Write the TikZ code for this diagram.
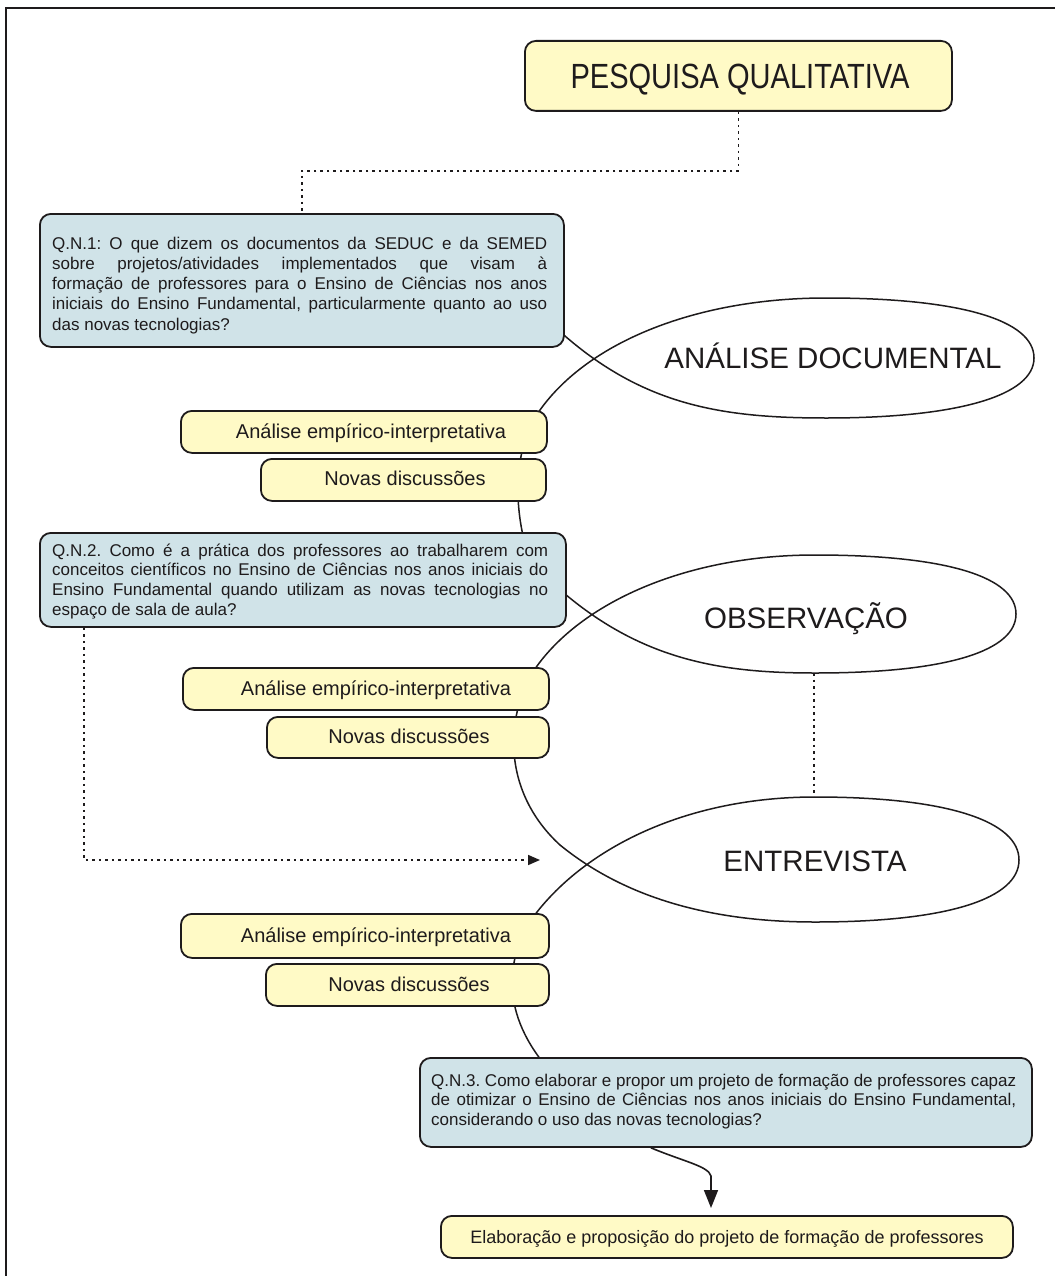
\documentclass[tikz,border=0pt]{standalone}
\usepackage{fontspec}
\setmainfont{Liberation Sans}
\newfontfamily\narrowfont{Liberation Sans}[FakeStretch=0.83]
\usetikzlibrary{arrows.meta,calc}
\definecolor{boxyellow}{RGB}{255,250,198}
\definecolor{boxblue}{RGB}{208,227,232}
\definecolor{ink}{RGB}{30,27,28}
\frenchspacing
\begin{document}
\begin{tikzpicture}[x=1pt,y=-1pt,
  ybox/.style={draw=ink, line width=1.8pt, rounded corners=11pt, fill=boxyellow, rectangle, inner sep=0pt, anchor=north west},
  bbox/.style={ybox, fill=boxblue},
  fish/.style={draw=ink, line width=1.5pt},
  dotline/.style={draw=ink, line width=1.6pt, dash pattern=on 2.5pt off 4pt},
  lbl/.style={text=ink, inner sep=0pt, anchor=base},
  biglbl/.style={lbl, font=\fontsize{29.5pt}{34pt}\selectfont},
  midlbl/.style={lbl, font=\fontsize{20pt}{24pt}\selectfont},
  qtext/.style={text=ink, inner sep=0pt, anchor=base west, align=justify, font=\fontsize{17pt}{19.8pt}\selectfont},
]
\useasboundingbox (0,0) rectangle (1054,1276);
\fill[white] (0,0) rectangle (1054,1276);
\draw[ink, line width=2pt] (6,1290) -- (6,8) -- (1070,8);

% fish-shaped loops (drawn first, boxes cover their ends)
\draw[fish] (556,328) .. controls (640,405) and (720,418) .. (826,418)
  .. controls (960,418) and (1034,395) .. (1034,358)
  .. controls (1034,320) and (960,298) .. (826,298)
  .. controls (700,298) and (590,340) .. (540,410)
  .. controls (518,440) and (512,490) .. (524,540);
\draw[fish] (558,588) .. controls (640,660) and (720,673) .. (815,673)
  .. controls (950,673) and (1016,650) .. (1016,614)
  .. controls (1016,578) and (950,555) .. (815,555)
  .. controls (690,555) and (585,600) .. (537,666)
  .. controls (505,712) and (500,790) .. (560,845)
  .. controls (630,902) and (720,922) .. (815,922)
  .. controls (950,922) and (1019,898) .. (1019,860)
  .. controls (1019,822) and (950,797) .. (815,797)
  .. controls (690,797) and (590,845) .. (537,912)
  .. controls (505,955) and (500,1010) .. (545,1065);

% boxes
\node[ybox, minimum width=427pt, minimum height=70pt] (pq) at (524,40) {};
\node[bbox, minimum width=524pt, minimum height=133pt] (q1) at (39,213) {};
\node[ybox, minimum width=366pt, minimum height=42pt] (a1) at (180,410) {};
\node[ybox, minimum width=285pt, minimum height=42pt] (n1) at (260,458) {};
\node[bbox, minimum width=526pt, minimum height=94pt] (q2) at (39,532) {};
\node[ybox, minimum width=366pt, minimum height=42pt] (a2) at (182,667) {};
\node[ybox, minimum width=282pt, minimum height=41pt] (n2) at (266,716) {};
\node[ybox, minimum width=368pt, minimum height=44pt] (a3) at (180,913) {};
\node[ybox, minimum width=283pt, minimum height=42pt] (n3) at (265,963) {};
\node[bbox, minimum width=612pt, minimum height=89pt] (q3) at (419,1057) {};
\node[ybox, minimum width=572pt, minimum height=42pt] (fin) at (440,1215) {};

% named points
\coordinate (obsB) at (814,673);
\coordinate (entT) at (814,797);
\coordinate (arrEnd) at (540,860);
\coordinate (bend) at (711,1176);
\coordinate (finTip) at (711,1208);

% connectors
\draw[dotline] (pq.south) -- ++(0,59) -| (q1.north);
\draw[dotline] (obsB) -- (entT);
\draw[dotline, -{Triangle[length=12pt,width=10pt]}] ([xshift=45pt]q2.south west) |- (arrEnd);
\draw[ink, line width=1.6pt, -{Triangle[length=18pt,width=14pt]}] ([xshift=-75pt]q3.south) .. controls (685,1162) and (708,1166) .. (bend) -- (finTip);

% texts
\node[lbl, font=\narrowfont\fontsize{35pt}{40pt}\selectfont] (pqT) at (740,89) {PESQUISA QUALITATIVA};
\node[biglbl] (adT) at (833,368) {ANÁLISE DOCUMENTAL};
\node[biglbl] (obT) at (806,628) {OBSERVAÇÃO};
\node[biglbl] (enT) at (815,871) {ENTREVISTA};

\node[midlbl] (a1T) at (371,438) {Análise empírico-interpretativa};
\node[midlbl] (n1T) at (405,485) {Novas discussões};
\node[midlbl] (a2T) at (376,695) {Análise empírico-interpretativa};
\node[midlbl] (n2T) at (409,743) {Novas discussões};
\node[midlbl] (a3T) at (376,942) {Análise empírico-interpretativa};
\node[midlbl] (n3T) at (409,991) {Novas discussões};
\node[lbl, font=\fontsize{18pt}{22pt}\selectfont] (finT) at (727,1243) {Elaboração e proposição do projeto de formação de professores};

\node[qtext, text width=495pt, font=\fontsize{17pt}{20.3pt}\selectfont] (q1T) at (52,249) {\noindent Q.N.1: O que dizem os documentos da SEDUC e da SEMED\linebreak sobre projetos/atividades implementados que visam à\linebreak formação de professores para o Ensino de Ciências nos anos\linebreak iniciais do Ensino Fundamental, particularmente quanto ao uso\linebreak das novas tecnologias?};
\node[qtext, text width=496pt] (q2T) at (52,556) {\noindent Q.N.2. Como é a prática dos professores ao trabalharem com\linebreak conceitos científicos no Ensino de Ciências nos anos iniciais do\linebreak Ensino Fundamental quando utilizam as novas tecnologias no\linebreak espaço de sala de aula?};
\node[qtext, text width=585pt] (q3T) at (431,1086) {\noindent Q.N.3. Como elaborar e propor um projeto de formação de professores capaz\linebreak de otimizar o Ensino de Ciências nos anos iniciais do Ensino Fundamental,\linebreak considerando o uso das novas tecnologias?};
\end{tikzpicture}
\end{document}
